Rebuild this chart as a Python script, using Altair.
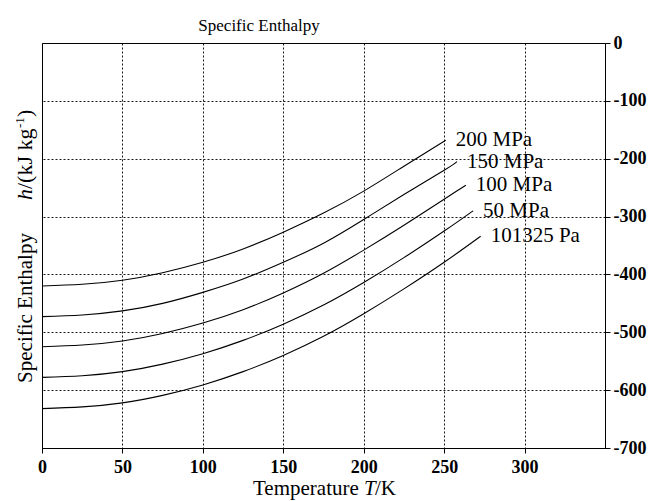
import altair as alt
import pandas as pd

# ---- data ----
series_names = ["200 MPa", "150 MPa", "100 MPa", "50 MPa", "101325 Pa"]

T_200 = [0, 25, 50, 75, 100, 125, 150, 175, 200, 225, 251]
H_200 = [-420, -417, -410, -397, -379, -356, -327, -294, -256, -213, -168]

T_150 = [0, 25, 50, 75, 100, 125, 150, 175, 200, 225, 250, 258]
H_150 = [-473, -470, -463, -450, -431, -408, -379, -346, -305, -262, -220, -205]

T_100 = [0, 25, 50, 75, 100, 125, 150, 175, 200, 225, 250, 263.5]
H_100 = [-525, -522, -515, -502, -484, -461, -432, -398, -358, -315, -270, -246]

T_50 = [0, 25, 50, 75, 100, 125, 150, 175, 200, 225, 250, 268]
H_50 = [-578, -575, -568, -555, -537, -514, -486, -453, -414, -371, -325, -290]

T_atm = [0, 25, 50, 75, 100, 125, 150, 175, 200, 225, 250, 272.7]
H_atm = [-632, -629, -622, -609, -591, -568, -540, -507, -468, -425, -379, -334]

x_ticks = [0, 50, 100, 150, 200, 250, 300]
y_ticks = [-700, -600, -500, -400, -300, -200, -100, 0]

all_T = [T_200, T_150, T_100, T_50, T_atm]
all_H = [H_200, H_150, H_100, H_50, H_atm]

rows = []
for name, ts, hs in zip(series_names, all_T, all_H):
    for t, h in zip(ts, hs):
        rows.append({"series": name, "T": t, "h": h})
df = pd.DataFrame(rows)

lab = pd.DataFrame({
    "series": series_names,
    "T": [ts[-1] for ts in all_T],
    "h": [hs[-1] for hs in all_H],
})

SERIF = "Liberation Serif"

xs = alt.Scale(domain=[0, 350], nice=False, zero=False)
ys = alt.Scale(domain=[-700, 0], nice=False, zero=False)

xaxis = alt.Axis(values=x_ticks, title=None, grid=True, gridColor="black",
                 gridDash=[2, 2], gridWidth=1, gridOpacity=0.9,
                 labelFont=SERIF, labelFontSize=18, labelFontWeight="bold",
                 labelColor="black", labelFlush=False, labelPadding=5,
                 labelExpr="datum.value + ''",
                 tickSize=5, tickColor="black", domainColor="black")
yaxis = alt.Axis(values=y_ticks, title=None, orient="right", grid=True,
                 gridColor="black", gridDash=[2, 2], gridWidth=1, gridOpacity=0.9,
                 labelFont=SERIF, labelFontSize=18, labelFontWeight="bold",
                 labelColor="black", labelPadding=3,
                 labelExpr="datum.value + ''",
                 tickSize=5, tickColor="black", domainColor="black")

lines = alt.Chart(df).mark_line(color="black", strokeWidth=1.1, interpolate="natural").encode(
    x=alt.X("T:Q", scale=xs, axis=xaxis),
    y=alt.Y("h:Q", scale=ys, axis=yaxis),
    detail="series:N",
)

labels = alt.Chart(lab).mark_text(align="left", baseline="middle", dx=10,
                                  font=SERIF, fontSize=21, color="black").encode(
    x=alt.X("T:Q", scale=xs),
    y=alt.Y("h:Q", scale=ys),
    text="series:N",
)


def txt(s, x, y, size=21, style="normal", align="left", baseline="alphabetic", angle=0):
    kw = dict(text=s, font=SERIF, fontSize=size, fontStyle=style, align=align,
              baseline=baseline, color="black")
    if angle:
        kw["angle"] = angle
    return alt.Chart(pd.DataFrame({"a": [0]})).mark_text(**kw).encode(
        x=alt.value(x), y=alt.value(y))


titles = [
    txt("Specific Enthalpy", 217, -12, size=17, align="center"),
    txt("Temperature", 211, 452),
    txt("T", 322, 452, style="italic"),
    txt("/K", 333, 452),
    txt("Specific Enthalpy", -10, 265, align="center", angle=270),
    txt("h", -10, 157, size=22, style="italic", angle=270),
    txt("/(kJ kg", -10, 146, size=22, angle=270),
    txt("-1", -18, 85, size=13, angle=270),
    txt(")", -10, 74, size=22, angle=270),
]

chart = alt.layer(lines, labels, *titles).properties(
    width=563, height=405,
    autosize=alt.AutoSizeParams(type="none"),
    padding={"left": 42, "top": 43, "right": 48, "bottom": 53},
    background="white",
).configure_view(stroke="black", strokeWidth=1)

chart.save("out.html", embed_options={"renderer": "svg", "actions": False})
